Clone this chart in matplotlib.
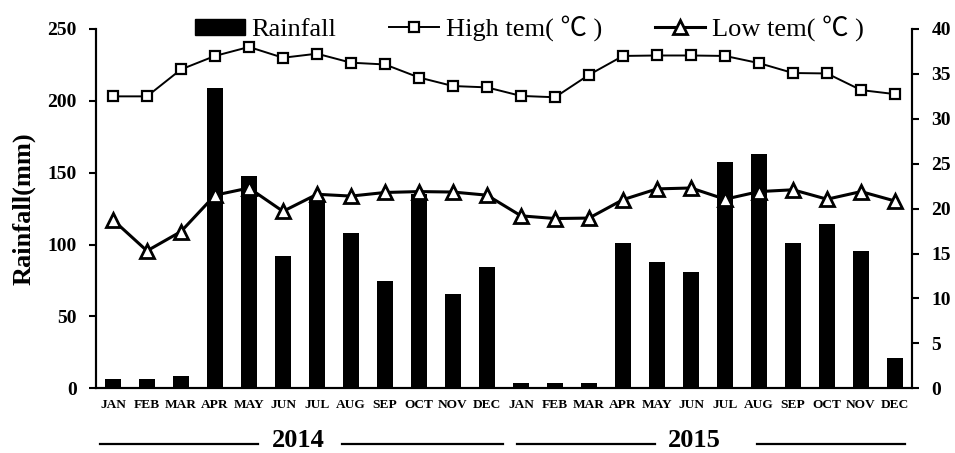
import matplotlib
matplotlib.use("Agg")
import matplotlib.pyplot as plt
from matplotlib.patches import Patch
from matplotlib.lines import Line2D
import numpy as np

plt.rcParams['font.family'] = ['Liberation Serif', 'Noto Sans CJK SC', 'DejaVu Serif']

months = ["JAN", "FEB", "MAR", "APR", "MAY", "JUN", "JUL", "AUG", "SEP", "OCT", "NOV", "DEC",
          "JAN", "FEB", "MAR", "APR", "MAY", "JUN", "JUL", "AUG", "SEP", "OCT", "NOV", "DEC"]
years = ["2014", "2015"]

rainfall = [6.5, 6.5, 8.6, 209, 147.4, 92, 132, 108, 74.5, 135, 65.7, 84.3,
            3.5, 3.5, 3.5, 101, 88, 81.2, 157.4, 163.2, 101, 114.2, 95.6, 20.9]
high_tem = [32.5, 32.5, 35.5, 37.0, 38.0, 36.8, 37.25, 36.25, 36.05, 34.6, 33.65, 33.5,
            32.55, 32.4, 34.9, 37.0, 37.05, 37.05, 37.0, 36.2, 35.1, 35.05, 33.2, 32.75]
low_tem = [18.75, 15.3, 17.45, 21.5, 22.3, 19.7, 21.6, 21.4, 21.8, 21.9, 21.85, 21.5,
           19.2, 18.9, 18.95, 21.0, 22.2, 22.3, 21.05, 21.9, 22.1, 21.05, 21.9, 20.85]

fig = plt.figure(figsize=(9.55, 4.53), dpi=100)
ax = fig.add_axes([0.1005, 0.1428, 0.8545, 0.7932])
ax2 = ax.twinx()

x = np.arange(len(months))
ax.bar(x, rainfall, width=0.46, color='black', zorder=1)
ax.set_xlim(-0.5, len(months) - 0.5)
ax.set_ylim(0, 250)
ax.set_yticks(np.arange(0, 251, 50))

ax2.plot(x, high_tem, color='black', lw=1.4, marker='s', ms=6.5,
         mfc='white', mec='black', mew=1.6, zorder=3)
ax2.plot(x, low_tem, color='black', lw=2.2, marker='^', ms=10,
         mfc='white', mec='black', mew=2.0, zorder=3)
ax2.set_ylim(0, 40)
ax2.set_yticks(np.arange(0, 41, 5))

for a in (ax, ax2):
    a.spines['top'].set_visible(False)
    for s in a.spines.values():
        s.set_linewidth(1.5)
    a.tick_params(axis='y', direction='out', length=5, width=1.5, labelsize=14, pad=9)
    for lab in a.get_yticklabels():
        lab.set_fontweight('bold')

ax.set_xticks(x)
ax.set_xticklabels(months, fontsize=9.6, fontweight='bold')
ax.tick_params(axis='x', length=0, pad=8)

ax.set_ylabel("Rainfall(mm)", fontsize=19, fontweight='bold', labelpad=8)

# year annotations
trans = ax.get_xaxis_transform()
ly = -0.155
for (x0, x1) in [(-0.38, 4.26), (6.74, 11.47), (11.88, 15.94), (18.93, 23.3)]:
    ax.add_line(Line2D([x0, x1], [ly, ly], transform=trans, color='black',
                       lw=1.6, clip_on=False))
ax.text(5.45, -0.145, years[0], transform=trans, ha='center', va='center',
        fontsize=19, fontweight='bold')
ax.text(17.1, -0.145, years[1], transform=trans, ha='center', va='center',
        fontsize=19, fontweight='bold')

handles = [Patch(facecolor='black', edgecolor='black'),
           Line2D([], [], color='black', lw=1.4, marker='s', ms=6.5, mfc='white', mec='black', mew=1.6),
           Line2D([], [], color='black', lw=2.2, marker='^', ms=10, mfc='white', mec='black', mew=2.0)]
labels = ["Rainfall", "High tem( \u2103 )", "Low tem( \u2103 )"]
fig.legend(handles, labels, loc='center', bbox_to_anchor=(0.554, 0.937), ncol=3,
           frameon=False, fontsize=19, handlelength=1.9, handleheight=0.55,
           handletextpad=0.25, columnspacing=2.0, borderaxespad=0)

fig.savefig("out.png", dpi=100)
